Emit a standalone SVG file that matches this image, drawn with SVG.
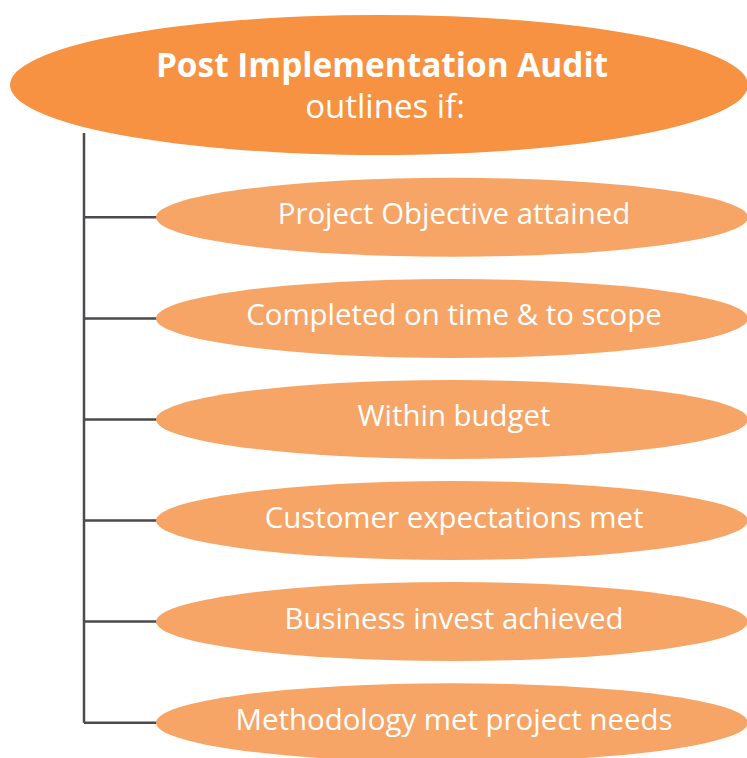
<svg xmlns="http://www.w3.org/2000/svg" width="747" height="758" viewBox="0 0 747 758">
<style>
.root{fill:#F69241}
.item{fill:#F7A566}
.t{fill:#fff;font-family:"Open Sans",Lato,"Liberation Sans",sans-serif;text-anchor:middle}
.h{font-weight:700;font-size:33.4px}
.s{font-size:33px}
.it{font-size:29.4px}
.c{stroke:#4a4a4f;stroke-width:2.5;fill:none}
</style>
<rect width="747" height="758" fill="#fff"/>
<g id="connectors">
<path class="c" d="M84,133 V722.7 M84,217.3 H157 M84,318.4 H157 M84,419.5 H157 M84,520.6 H157 M84,621.6 H157 M84,722.7 H157"/>
</g>
<g id="root">
<ellipse class="root" cx="379" cy="85" rx="369" ry="70"/>
<text class="t h" x="382" y="77">Post Implementation Audit</text>
<text class="t s" x="385" y="118">outlines if:</text>
</g>
<g id="n1"><ellipse class="item" cx="452" cy="217.3" rx="296" ry="39.5"/><text class="t it" x="454" y="224">Project Objective attained</text></g>
<g id="n2"><ellipse class="item" cx="452" cy="318.4" rx="296" ry="39.5"/><text class="t it" x="454" y="325.3">Completed on time &amp; to scope</text></g>
<g id="n3"><ellipse class="item" cx="452" cy="419.5" rx="296" ry="39.5"/><text class="t it" x="454" y="426.4">Within budget</text></g>
<g id="n4"><ellipse class="item" cx="452" cy="520.6" rx="296" ry="39.5"/><text class="t it" x="454" y="527.5">Customer expectations met</text></g>
<g id="n5"><ellipse class="item" cx="452" cy="621.6" rx="296" ry="39.5"/><text class="t it" x="454" y="628.5">Business invest achieved</text></g>
<g id="n6"><ellipse class="item" cx="452" cy="722.7" rx="296" ry="39.5"/><text class="t it" x="454" y="729.6">Methodology met project needs</text></g>
</svg>
